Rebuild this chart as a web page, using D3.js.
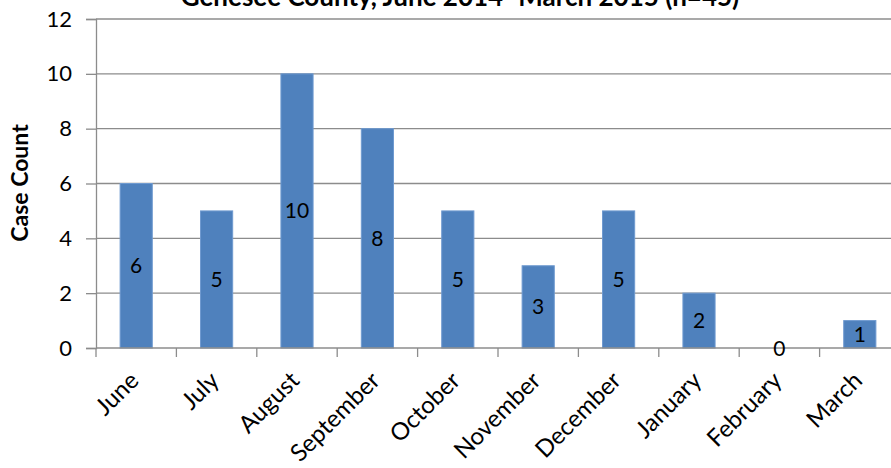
<!DOCTYPE html>
<html>
<head>
<meta charset="utf-8">
<script src="https://cdn.jsdelivr.net/npm/d3@7"></script>
<style>
  body { margin: 0; background: #fff; }
  svg { display: block; font-family: Lato, "Open Sans", sans-serif; }
</style>
</head>
<body>
<svg id="chart" width="891" height="468"></svg>
<script>
var months = ['June', 'July', 'August', 'September', 'October', 'November', 'December', 'January', 'February', 'March'];
var counts = [6, 5, 10, 8, 5, 3, 5, 2, 0, 1];
var yTicks = [0, 2, 4, 6, 8, 10, 12];

var svg = d3.select('#chart');
var plotL = 96, plotR = 900, plotT = 19, plotB = 348;

var x = d3.scaleBand()
  .domain(months)
  .range([plotL, plotR])
  .paddingInner(0.6)
  .paddingOuter(0.3);

var y = d3.scaleLinear()
  .domain([0, 12])
  .range([plotB, plotT]);

// title (cut off at the top, as in the picture)
svg.append('text')
  .attr('x', 460).attr('y', 6)
  .attr('text-anchor', 'middle')
  .style('font-weight', 'bold').style('font-size', '26px')
  .text('Genesee County, June 2014\u2013March 2015 (n=45)');

// gridlines
svg.append('g').selectAll('line')
  .data(yTicks.slice(1))
  .join('line')
  .attr('x1', plotL).attr('x2', plotR)
  .attr('y1', function(d) { return y(d); })
  .attr('y2', function(d) { return y(d); })
  .attr('stroke', '#8c8c8c').attr('stroke-width', 1.3);

// y axis
var yAxis = svg.append('g')
  .attr('transform', 'translate(' + plotL + ',0)')
  .call(d3.axisLeft(y).tickValues(yTicks).tickSize(10).tickPadding(14));
yAxis.select('.domain').attr('stroke', '#8c8c8c').attr('stroke-width', 1.3);
yAxis.selectAll('.tick line').attr('stroke', '#8c8c8c').attr('stroke-width', 1.3);
yAxis.selectAll('.tick text').style('font-size', '22px').style('font-family', 'Lato, sans-serif').attr('fill', '#000');

svg.append('text')
  .attr('transform', 'translate(28,183) rotate(-90)')
  .attr('text-anchor', 'middle')
  .style('font-weight', 'bold').style('font-size', '23px')
  .text('Case Count');

// bars
svg.append('g').selectAll('rect')
  .data(counts)
  .join('rect')
  .attr('x', function(d, i) { return x(months[i]); })
  .attr('width', x.bandwidth())
  .attr('y', function(d) { return y(d); })
  .attr('height', function(d) { return y(0) - y(d); })
  .attr('fill', '#4f81bd')
  .attr('stroke', '#6f9ad0').attr('stroke-width', 1);

// x axis with ticks between categories
var xAxisG = svg.append('g');
xAxisG.append('line')
  .attr('x1', plotL).attr('x2', plotR)
  .attr('y1', plotB).attr('y2', plotB)
  .attr('stroke', '#8c8c8c').attr('stroke-width', 1.3);
var step = x.step();
xAxisG.selectAll('.tk')
  .data(d3.range(months.length + 1))
  .join('line')
  .attr('class', 'tk')
  .attr('x1', function(i) { return plotL + i * step; })
  .attr('x2', function(i) { return plotL + i * step; })
  .attr('y1', plotB).attr('y2', plotB + 9)
  .attr('stroke', '#8c8c8c').attr('stroke-width', 1.3);

xAxisG.selectAll('text')
  .data(months)
  .join('text')
  .attr('transform', function(d) {
    return 'translate(' + (x(d) + x.bandwidth() / 2 - 2) + ',' + (plotB + 28) + ') rotate(-45)';
  })
  .attr('text-anchor', 'end')
  .attr('dy', '0.35em')
  .style('font-size', '24px')
  .text(function(d) { return d; });

// value labels centred in bars
svg.append('g').selectAll('text')
  .data(counts)
  .join('text')
  .attr('x', function(d, i) { return x(months[i]) + x.bandwidth() / 2; })
  .attr('y', function(d) { return (y(d) + y(0)) / 2; })
  .attr('dy', '0.36em')
  .attr('text-anchor', 'middle')
  .style('font-size', '21px')
  .text(function(d) { return d; });
</script>
</body>
</html>
